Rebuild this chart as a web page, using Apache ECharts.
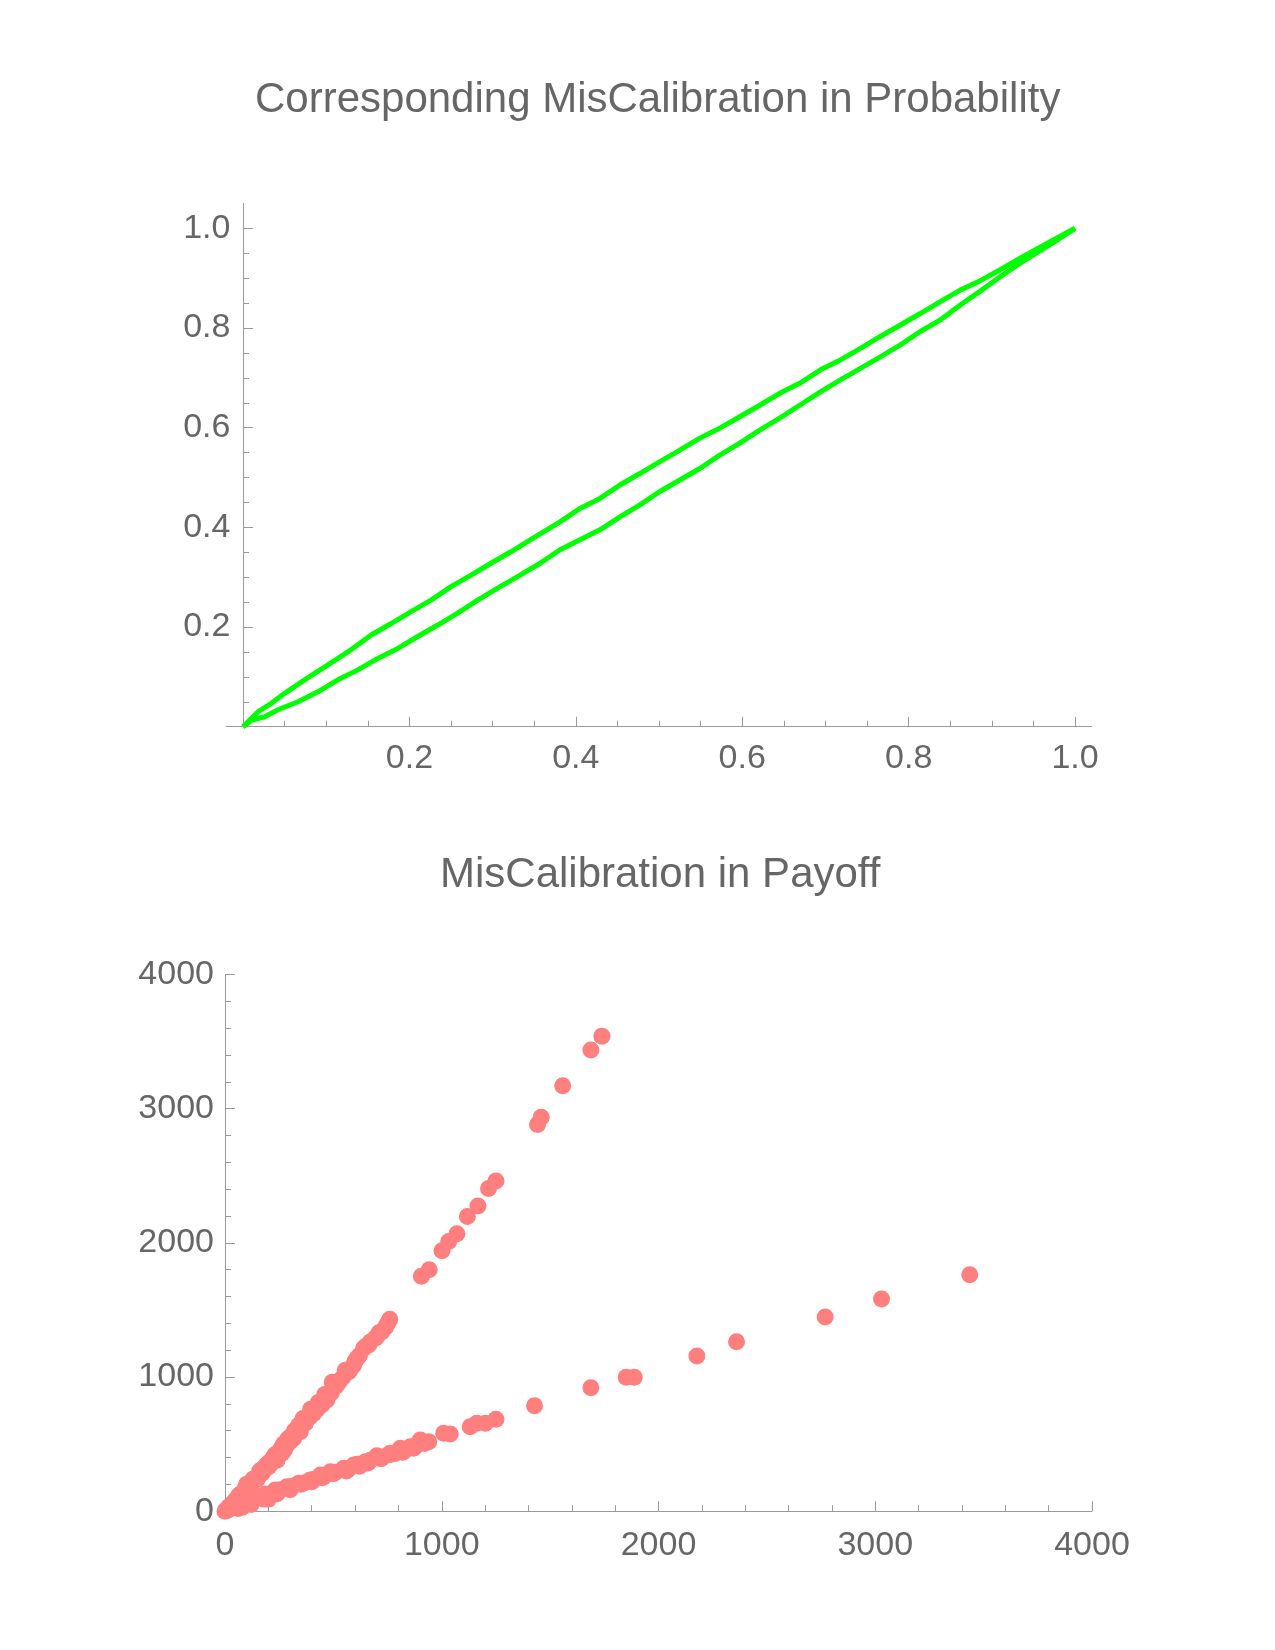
<!DOCTYPE html>
<html>
<head>
<meta charset="utf-8">
<script src="https://cdn.jsdelivr.net/npm/echarts@6/dist/echarts.min.js"></script>
<style>
html,body{margin:0;padding:0;background:#fff;}
#chart{width:1275px;height:1650px;}
</style>
</head>
<body>
<div id="chart"></div>
<script>
// ---- Top chart: Corresponding MisCalibration in Probability ----
const probUpperX = [0, 0.018, 0.034, 0.050, 0.074, 0.102, 0.126, 0.154, 0.178, 0.202, 0.226, 0.250, 0.274, 0.298, 0.322, 0.353, 0.381, 0.405, 0.429, 0.453, 0.477, 0.501, 0.525, 0.549, 0.573, 0.597, 0.621, 0.645, 0.669, 0.694, 0.718, 0.742, 0.766, 0.790, 0.814, 0.838, 0.862, 0.886, 0.910, 0.934, 0.958, 0.980, 1.0];
const probUpperY = [0, 0.030, 0.047, 0.067, 0.094, 0.124, 0.150, 0.184, 0.207, 0.231, 0.254, 0.281, 0.304, 0.328, 0.351, 0.383, 0.411, 0.438, 0.458, 0.485, 0.508, 0.532, 0.555, 0.579, 0.599, 0.622, 0.645, 0.669, 0.689, 0.716, 0.736, 0.759, 0.783, 0.806, 0.829, 0.853, 0.876, 0.895, 0.917, 0.940, 0.962, 0.982, 1.0];
const probLowerX = [0, 0.010, 0.026, 0.042, 0.066, 0.090, 0.114, 0.138, 0.162, 0.186, 0.210, 0.234, 0.258, 0.282, 0.306, 0.333, 0.357, 0.381, 0.405, 0.429, 0.453, 0.477, 0.501, 0.525, 0.549, 0.573, 0.597, 0.621, 0.645, 0.669, 0.694, 0.718, 0.742, 0.766, 0.790, 0.814, 0.838, 0.862, 0.886, 0.910, 0.934, 0.958, 0.980, 1.0];
const probLowerY = [0, 0.013, 0.020, 0.034, 0.050, 0.070, 0.094, 0.114, 0.137, 0.157, 0.181, 0.204, 0.228, 0.254, 0.278, 0.304, 0.328, 0.355, 0.375, 0.395, 0.421, 0.445, 0.472, 0.495, 0.518, 0.545, 0.569, 0.595, 0.619, 0.645, 0.672, 0.696, 0.719, 0.742, 0.766, 0.793, 0.816, 0.846, 0.874, 0.903, 0.930, 0.955, 0.978, 1.0];
const probMajorTicks = [0.2, 0.4, 0.6, 0.8, 1.0];
const probMinorTicks = [0.05, 0.1, 0.15, 0.2, 0.25, 0.3, 0.35, 0.4, 0.45, 0.5, 0.55, 0.6, 0.65, 0.7, 0.75, 0.8, 0.85, 0.9, 0.95, 1.0];

// ---- Bottom chart: MisCalibration in Payoff ----
const payoffUpperX = [1739, 1688, 1558, 1459, 1442, 1250, 1216, 1167, 1118, 1070, 1032, 1001, 942, 906, 760, 750, 740, 724, 710, 700, 693, 670, 663, 650, 640, 620, 609, 600, 594, 580, 571, 555, 545, 532, 520, 509, 495, 490, 470, 460, 455, 447, 430, 425, 409, 400, 395, 390, 380, 370, 360, 355, 347, 340, 335, 330, 320, 317, 305, 300, 290, 286, 280, 275, 270, 263, 260, 250, 245, 240, 232, 230, 220, 215, 201, 200, 190, 185, 171, 170, 160, 155, 150, 140, 130, 125, 120, 109, 100, 95, 90, 78, 65, 60, 48, 35, 20, 17, 5];
const payoffUpperY = [3540, 3436, 3170, 2935, 2882, 2460, 2405, 2275, 2196, 2068, 2009, 1940, 1800, 1750, 1430, 1400, 1370, 1338, 1330, 1300, 1288, 1260, 1238, 1230, 1214, 1160, 1139, 1120, 1089, 1060, 1040, 1050, 1000, 978, 950, 928, 960, 880, 829, 870, 830, 791, 810, 760, 729, 740, 760, 700, 690, 655, 690, 640, 592, 640, 615, 580, 600, 543, 560, 520, 540, 493, 500, 460, 500, 431, 470, 445, 410, 380, 394, 420, 395, 360, 332, 360, 345, 315, 282, 310, 300, 265, 240, 232, 240, 210, 190, 183, 200, 175, 160, 133, 120, 95, 83, 60, 25, 34, 10];
const payoffLowerX = [3436, 3029, 2769, 2360, 2177, 1888, 1851, 1688, 1428, 1250, 1201, 1162, 1131, 1039, 1009, 940, 920, 901, 880, 870, 855, 830, 820, 809, 785, 762, 760, 730, 720, 701, 670, 660, 647, 620, 610, 594, 570, 560, 548, 510, 500, 486, 460, 450, 440, 415, 400, 393, 365, 350, 340, 310, 300, 286, 255, 240, 232, 210, 200, 186, 180, 160, 140, 130, 120, 115, 94, 80, 70, 60, 48, 25, 10, 0];
const payoffLowerY = [1762, 1581, 1447, 1263, 1156, 998, 998, 920, 786, 685, 655, 655, 630, 575, 580, 518, 505, 531, 490, 470, 481, 455, 440, 469, 430, 431, 420, 405, 390, 414, 380, 360, 369, 335, 350, 344, 315, 300, 320, 290, 280, 294, 265, 250, 270, 240, 220, 232, 210, 200, 208, 185, 160, 183, 160, 130, 158, 120, 90, 128, 90, 100, 96, 80, 50, 70, 59, 30, 40, 20, 34, 20, 5, 0];

const zip = (xs, ys) => xs.map((x, i) => [x, ys[i]]);

const FONT = '"Liberation Sans", Arial, sans-serif';
const TXT = '#666666';
const AX = '#9a9a9a';

const chart = echarts.init(document.getElementById('chart'), null, {renderer: 'canvas'});

function majorAxisCommon(extra) {
  return Object.assign({
    type: 'value',
    splitLine: {show: false},
    axisLine: {show: true, onZero: true, lineStyle: {color: AX, width: 1}},
  }, extra);
}

const option = {
  backgroundColor: '#ffffff',
  animation: false,
  title: [
    {text: 'Corresponding MisCalibration in Probability', left: 250, top: 74,
     textStyle: {fontFamily: FONT, fontSize: 42, fontWeight: 'normal', color: TXT}},
    {text: 'MisCalibration in Payoff', left: 435, top: 849,
     textStyle: {fontFamily: FONT, fontSize: 42, fontWeight: 'normal', color: TXT}}
  ],
  grid: [
    {left: 226.4, top: 203.4, width: 865.3, height: 523.3, containLabel: false},
    {left: 225, top: 974.4, width: 867, height: 536.8, containLabel: false}
  ],
  xAxis: [
    majorAxisCommon({gridIndex: 0, min: -0.02, max: 1.02, position: 'bottom',
      axisTick: {show: true, inside: true, length: 10, customValues: probMajorTicks, lineStyle: {color: AX}},
      axisLabel: {customValues: probMajorTicks, formatter: v => Number(v).toFixed(1), fontFamily: FONT, fontSize: 34, color: TXT, margin: 15}}),
    {type: 'value', gridIndex: 0, min: -0.02, max: 1.02, position: 'bottom',
      splitLine: {show: false}, axisLine: {show: false, onZero: true},
      axisTick: {show: true, inside: true, length: 6, customValues: probMinorTicks, lineStyle: {color: AX}},
      axisLabel: {show: false}},
    majorAxisCommon({gridIndex: 1, min: 0, max: 4000, interval: 1000, position: 'bottom',
      axisTick: {show: true, inside: true, length: 10, lineStyle: {color: AX}},
      minorTick: {show: true, splitNumber: 5, length: 6, lineStyle: {color: AX}},
      axisLabel: {formatter: v => String(v), fontFamily: FONT, fontSize: 34, color: TXT, margin: 17}})
  ],
  yAxis: [
    majorAxisCommon({gridIndex: 0, min: 0, max: 1.05, position: 'left',
      axisLine: {show: true, onZero: true, onZeroAxisIndex: 0, lineStyle: {color: AX, width: 1}},
      axisTick: {show: true, inside: true, length: 10, customValues: probMajorTicks, lineStyle: {color: AX}},
      axisLabel: {customValues: probMajorTicks, formatter: v => Number(v).toFixed(1), fontFamily: FONT, fontSize: 34, color: TXT, margin: -4}}),
    {type: 'value', gridIndex: 0, min: 0, max: 1.05, position: 'left',
      splitLine: {show: false}, axisLine: {show: false, onZero: true, onZeroAxisIndex: 0},
      axisTick: {show: true, inside: true, length: 6, customValues: probMinorTicks, lineStyle: {color: AX}},
      axisLabel: {show: false}},
    majorAxisCommon({gridIndex: 1, min: 0, max: 4000, interval: 1000, position: 'left',
      axisTick: {show: true, inside: true, length: 10, lineStyle: {color: AX}},
      minorTick: {show: true, splitNumber: 5, length: 6, lineStyle: {color: AX}},
      axisLabel: {formatter: v => String(v), fontFamily: FONT, fontSize: 34, color: TXT, margin: 11}})
  ],
  series: [
    {type: 'line', xAxisIndex: 0, yAxisIndex: 0, data: zip(probUpperX, probUpperY),
     showSymbol: false, lineStyle: {color: '#00ff00', width: 5}, itemStyle: {color: '#00ff00'}},
    {type: 'line', xAxisIndex: 0, yAxisIndex: 0, data: zip(probLowerX, probLowerY),
     showSymbol: false, lineStyle: {color: '#00ff00', width: 5}, itemStyle: {color: '#00ff00'}},
    {type: 'scatter', xAxisIndex: 2, yAxisIndex: 2, data: zip(payoffUpperX, payoffUpperY),
     symbolSize: 17, itemStyle: {color: '#ff7f7f', opacity: 1}, clip: false},
    {type: 'scatter', xAxisIndex: 2, yAxisIndex: 2, data: zip(payoffLowerX, payoffLowerY),
     symbolSize: 17, itemStyle: {color: '#ff7f7f', opacity: 1}, clip: false}
  ]
};
chart.setOption(option);
</script>
</body>
</html>
